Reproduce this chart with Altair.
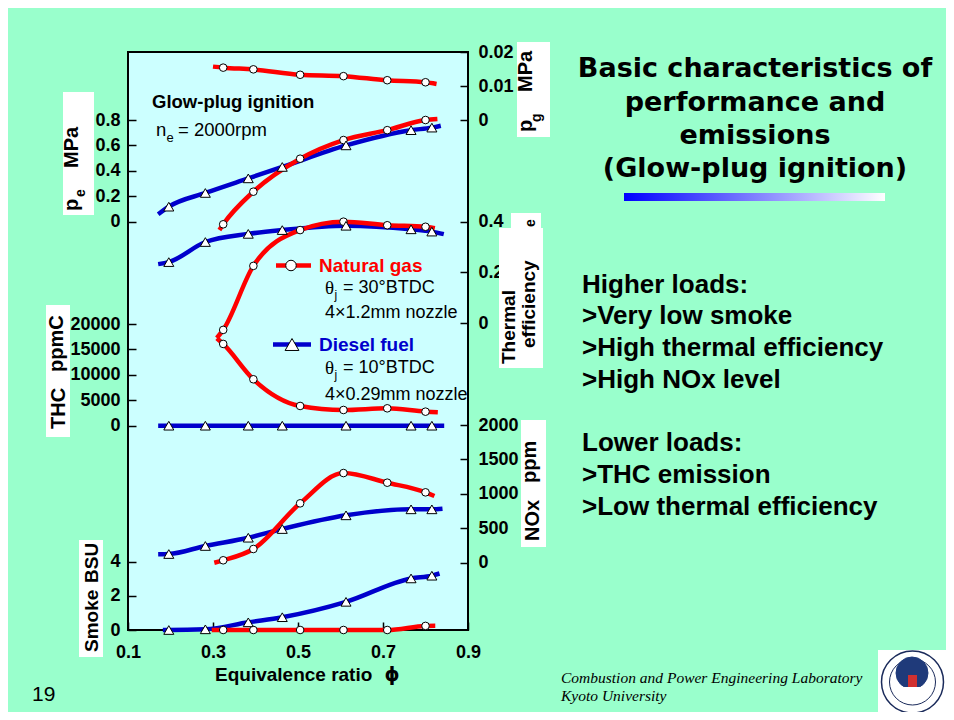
import altair as alt
import pandas as pd

# ---------------- data ----------------
X_TICKS = [0.1, 0.3, 0.5, 0.7, 0.9]

NG_PHI = [0.324, 0.395, 0.505, 0.607, 0.710, 0.800]          # natural gas test points
DF_PHI = [0.196, 0.282, 0.383, 0.463, 0.613, 0.766, 0.815]   # diesel test points

NG_PG = [0.0154, 0.0149, 0.0133, 0.0129, 0.0117, 0.0111]
NG_PE = [-0.022, 0.235, 0.495, 0.642, 0.720, 0.800]
DF_PE = [0.117, 0.225, 0.340, 0.430, 0.600, 0.720, 0.740]
NG_ETA = [-0.026, 0.226, 0.367, 0.400, 0.386, 0.380]
DF_ETA = [0.241, 0.320, 0.352, 0.367, 0.384, 0.370, 0.361]
NG_THC = [16080, 9130, 3880, 3090, 3420, 2760]
DF_THC = [0, 0, 0, 0, 0, 0, 0]
NG_NOX = [35, 199, 862, 1302, 1162, 1022]
DF_NOX = [126, 243, 363, 489, 688, 775, 775]
NG_SMOKE = [0.0, 0.0, 0.0, 0.0, 0.0, 0.24]
DF_SMOKE = [0.0, 0.04, 0.45, 0.75, 1.65, 3.02, 3.18]

# where each fitted curve starts and ends (phi, value)
NG_PG_ENDS = [(0.300, 0.0157), (0.826, 0.0106)]
NG_PE_ENDS = [(0.315, -0.067), (0.828, 0.808)]
DF_PE_ENDS = [(0.171, 0.057), (0.836, 0.755)]
NG_ETA_ENDS = [(0.309, -0.058), (0.822, 0.374)]
DF_ETA_ENDS = [(0.171, 0.233), (0.843, 0.351)]
NG_THC_ENDS = [(0.309, 17200), (0.829, 2640)]
DF_THC_ENDS = [(0.171, 0), (0.844, 0)]
NG_NOX_ENDS = [(0.303, 0), (0.821, 968)]
DF_NOX_ENDS = [(0.171, 122), (0.840, 784)]
NG_SMOKE_ENDS = [(0.297, 0.0), (0.823, 0.25)]
DF_SMOKE_ENDS = [(0.182, 0.0), (0.833, 3.31)]

PE_TICKS = [0, 0.2, 0.4, 0.6, 0.8]
THC_TICKS = [0, 5000, 10000, 15000, 20000]
SMOKE_TICKS = [0, 2, 4]
PG_TICKS = [0, 0.01, 0.02]
ETA_TICKS = [0, 0.2, 0.4]
NOX_TICKS = [0, 500, 1000, 1500, 2000]

NG = "Natural gas"
DF = "Diesel fuel"

# ---------------- styling / layout ----------------
RED = "#FF0000"
BLUE = "#0000CC"
SANS = "Liberation Sans, Arial, Helvetica, sans-serif"
SERIF = "Liberation Serif, Times New Roman, serif"
TITLE_FONT = "DejaVu Sans, Liberation Sans, sans-serif"
W, H = 340, 578
OX, OY = 128, 52  # page position of the plot's top-left corner

X_SCALE = alt.Scale(domain=[0.1, 0.9], nice=False, zero=False)
X_AXIS = alt.Axis(values=X_TICKS, format=".1f", orient="bottom", offset=-8,
                  tickSize=8, tickWidth=1.5, tickColor="black", domain=False,
                  grid=False, labelFont=SANS, labelFontWeight="bold",
                  labelFontSize=18, labelColor="black", labelPadding=13,
                  labelFlush=False, labelOverlap=False, title=None)


def y_axis(values, fmt, orient):
    return alt.Axis(values=values, format=fmt, orient=orient, offset=-8,
                    tickSize=8, tickWidth=1.5, tickColor="black", domain=False,
                    grid=False, labelFont=SANS, labelFontWeight="bold",
                    labelFontSize=18, labelColor="black",
                    labelPadding=8 if orient == "left" else 10,
                    labelFlush=False, labelOverlap=False,
                    labelExpr="datum.value == 0 ? '0' : datum.label",
                    title=None)


COLOR = alt.Color("fuel:N", scale=alt.Scale(domain=[NG, DF], range=[RED, BLUE]), legend=None)

line_layers = []
point_layers = []


def quantity(series, dom, ticks, fmt, orient):
    rows_line, rows_pt = [], []
    for fuel, phi, vals, ends in series:
        for p, v in [ends[0]] + list(zip(phi, vals)) + [ends[1]]:
            rows_line.append({"phi": p, "v": v, "fuel": fuel})
        for p, v in zip(phi, vals):
            rows_pt.append({"phi": p, "v": v, "fuel": fuel})
    ysc = alt.Scale(domain=dom, nice=False, zero=False)
    line = alt.Chart(pd.DataFrame(rows_line)).mark_line(
        strokeWidth=4.5, interpolate="monotone").encode(
        x=alt.X("phi:Q", scale=X_SCALE, axis=X_AXIS),
        y=alt.Y("v:Q", scale=ysc, axis=y_axis(ticks, fmt, orient)),
        color=COLOR,
        order="phi:Q",
    )
    line_layers.append(line)
    pts = pd.DataFrame(rows_pt)
    for fuel, shape, size in [(NG, "circle", 58), (DF, "triangle-up", 100)]:
        sub = pts[pts["fuel"] == fuel]
        if len(sub) == 0:
            continue
        point_layers.append(
            alt.Chart(sub).mark_point(shape=shape, filled=True, fill="white",
                                      stroke="black", strokeWidth=1, size=size,
                                      opacity=1).encode(
                x=alt.X("phi:Q", scale=X_SCALE, axis=X_AXIS),
                y=alt.Y("v:Q", scale=ysc, axis=None),
            )
        )


quantity([(NG, NG_PHI, NG_PG, NG_PG_ENDS)], [-0.15, 0.02], PG_TICKS, ".2f", "right")
quantity([(DF, DF_PHI, DF_PE, DF_PE_ENDS), (NG, NG_PHI, NG_PE, NG_PE_ENDS)],
         [-3.2197, 1.3360], PE_TICKS, ".1f", "left")
quantity([(DF, DF_PHI, DF_ETA, DF_ETA_ENDS), (NG, NG_PHI, NG_ETA, NG_ETA_ENDS)],
         [-1.2075, 1.0681], ETA_TICKS, ".1f", "right")
quantity([(DF, DF_PHI, DF_THC, DF_THC_ENDS), (NG, NG_PHI, NG_THC, NG_THC_ENDS)],
         [-40177, 73491], THC_TICKS, "d", "left")
quantity([(DF, DF_PHI, DF_NOX, DF_NOX_ENDS), (NG, NG_PHI, NG_NOX, NG_NOX_ENDS)],
         [-977.5, 7417.6], NOX_TICKS, "d", "right")
quantity([(DF, DF_PHI, DF_SMOKE, DF_SMOKE_ENDS), (NG, NG_PHI, NG_SMOKE, NG_SMOKE_ENDS)],
         [0, 33.85], SMOKE_TICKS, "d", "left")

# ---------------- annotations ----------------
ONE = alt.Data(values=[{"a": 1}])
ann = []


def text(s, x, y, size=18, weight="normal", color="black", font=SANS,
         align="left", baseline="middle", angle=0, style="normal"):
    ann.append(alt.Chart(ONE).mark_text(
        text=s, fontSize=size, fontWeight=weight, color=color, font=font,
        align=align, baseline=baseline, angle=angle, fontStyle=style).encode(
        x=alt.value(x - OX), y=alt.value(y - OY)))


def box(x1, y1, x2, y2, fill="white"):
    ann.append(alt.Chart(ONE).mark_rect(fill=fill).encode(
        x=alt.value(x1 - OX), x2=alt.value(x2 - OX),
        y=alt.value(y1 - OY), y2=alt.value(y2 - OY)))


def rule(x1, x2, y, color):
    ann.append(alt.Chart(ONE).mark_rule(color=color, strokeWidth=4.5).encode(
        x=alt.value(x1 - OX), x2=alt.value(x2 - OX), y=alt.value(y - OY)))


def symbol(x, y, shape, size, fill="white", stroke="black", sw=1.0, filled=True):
    ann.append(alt.Chart(ONE).mark_point(
        shape=shape, filled=filled, fill=fill, stroke=stroke, strokeWidth=sw,
        size=size, opacity=1).encode(x=alt.value(x - OX), y=alt.value(y - OY)))


# inside the plot
text("Glow-plug ignition", 152, 102, size=18.5, weight="bold")
text("n", 156, 130, size=18.5)
text("e", 166.5, 138, size=13)
text("= 2000rpm", 178, 130, size=18.5)

rule(276, 311, 265.5, RED)
symbol(291, 265.5, "circle", 110)
text("Natural gas", 319, 266, size=19, weight="bold", color=RED)
text("θ", 325, 288, size=19, font=SERIF)
text("j", 334.5, 294.5, size=12)
text("= 30°BTDC", 343, 288, size=18)
text("4×1.2mm nozzle", 325, 312.5, size=18)

rule(273, 311, 344.5, BLUE)
symbol(292, 344.5, "triangle-up", 190)
text("Diesel fuel", 319, 345, size=19, weight="bold", color=BLUE)
text("θ", 325, 368, size=19, font=SERIF)
text("j", 334.5, 374.5, size=12)
text("= 10°BTDC", 343, 368, size=18)
text("4×0.29mm nozzle", 325, 395, size=18)

# axis titles (white boxes with rotated text)
box(63, 92, 94, 215)
text("p", 78, 211, size=20, weight="bold", baseline="alphabetic", angle=270)
text("e", 85, 197, size=14, weight="bold", baseline="alphabetic", angle=270)
text("MPa", 78, 168, size=20, weight="bold", baseline="alphabetic", angle=270)

box(46, 305, 70, 437)
text("THC", 65, 429, size=20, weight="bold", baseline="alphabetic", angle=270)
text("ppmC", 63, 372, size=20, weight="bold", baseline="alphabetic", angle=270)

box(79, 540, 103, 657)
text("Smoke", 98, 652, size=19, weight="bold", baseline="alphabetic", angle=270)
text("BSU", 98, 583, size=19, weight="bold", baseline="alphabetic", angle=270)

box(517, 42, 550, 137)
text("p", 532, 132, size=20, weight="bold", baseline="alphabetic", angle=270)
text("g", 541, 122, size=14, weight="bold", baseline="alphabetic", angle=270)
text("MPa", 532, 92, size=20, weight="bold", baseline="alphabetic", angle=270)

box(511, 213, 541, 230)
box(499, 228, 543, 368)
text("e", 535, 227, size=14, weight="bold", baseline="alphabetic", angle=270)
text("Thermal", 515, 364, size=19, weight="bold", baseline="alphabetic", angle=270)
text("efficiency", 535, 348, size=19, weight="bold", baseline="alphabetic", angle=270)

box(521, 420, 546, 547)
text("NOx", 539, 541, size=20, weight="bold", baseline="alphabetic", angle=270)
text("ppm", 536, 483, size=20, weight="bold", baseline="alphabetic", angle=270)

text("Equivalence ratio", 215, 681, size=19, weight="bold", baseline="alphabetic")
text("ϕ", 392, 681, size=19, weight="bold", baseline="alphabetic", align="center",
     font="DejaVu Sans, sans-serif")

# slide texts
for s, yb in [("Basic characteristics of", 77), ("performance and", 111),
              ("emissions", 143.5), ("(Glow-plug ignition)", 176.5)]:
    text(s, 755, yb, size=27, weight="bold", baseline="alphabetic", align="center",
         font=TITLE_FONT)

ann.append(alt.Chart(ONE).mark_rect(fill={
    "gradient": "linear", "x1": 0, "x2": 1, "y1": 0, "y2": 0,
    "stops": [{"offset": 0, "color": "#0000FF"}, {"offset": 1, "color": "#FFFFFF"}]}).encode(
    x=alt.value(624 - OX), x2=alt.value(885 - OX),
    y=alt.value(193 - OY), y2=alt.value(201 - OY)))

for s, yb in [("Higher loads:", 293), (">Very low smoke", 324),
              (">High thermal efficiency", 356), (">High NOx level", 388),
              ("Lower loads:", 451), (">THC emission", 483),
              (">Low thermal efficiency", 515)]:
    text(s, 582, yb, size=26, weight="bold", baseline="alphabetic")

text("19", 32, 701, size=21, baseline="alphabetic")
text("Combustion and Power Engineering Laboratory", 561, 683, size=15.5,
     font=SERIF, style="italic", baseline="alphabetic")
text("Kyoto University", 561, 701, size=15.5, font=SERIF, style="italic",
     baseline="alphabetic")

# university seal (simplified)
box(878, 650, 946, 712)
symbol(912.5, 682, "circle", 62 * 62, fill="white", stroke="#1a2a5a", sw=1.5)
symbol(912.5, 682, "circle", 46 * 46, fill="white", stroke="#1a2a5a", sw=1.0)
symbol(912, 673, "circle", 32 * 32, fill="#1f3a7a", stroke="#1f3a7a", sw=1)
box(908, 675, 917, 692, fill="#d03030")
box(899, 687, 926, 695, fill="white")

# whole chart is 938 x 704 so that the page (8px margins) fits 954 x 720
chart = alt.layer(*line_layers, *point_layers, *ann).resolve_scale(
    y="independent"
).properties(
    width=W, height=H,
    padding={"left": 120, "top": 44, "right": 478, "bottom": 82},
    autosize=alt.AutoSizeParams(type="none"),
    background="#99FFCC",
).configure_view(fill="#CCFFFF", stroke="black", strokeWidth=2)

chart.save("out.html", embed_options={"renderer": "svg", "actions": False})
